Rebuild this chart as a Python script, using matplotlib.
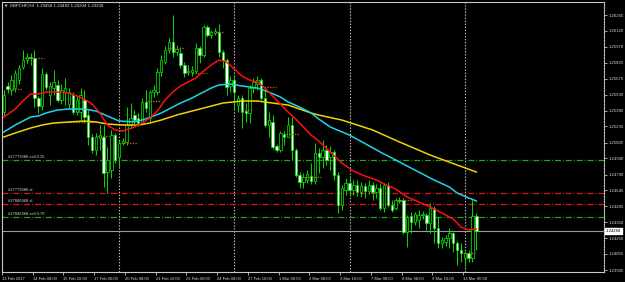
import matplotlib.pyplot as plt
import matplotlib.transforms as mtransforms

plt.rcParams['font.family'] = ['Liberation Sans', 'DejaVu Sans']
plt.rcParams['lines.scale_dashes'] = False

# GBPCHF H4 candles, 13 Feb 2017 00:00 .. 13 Mar 2017 12:00
opens = [1.25368, 1.25609, 1.25572, 1.25590, 1.25664, 1.25784, 1.25849, 1.25877, 1.25868, 1.25498,
         1.25424, 1.25720, 1.25525, 1.25590, 1.25618, 1.25479, 1.25553, 1.25442, 1.25525, 1.25368,
         1.25368, 1.25479, 1.25340, 1.25137, 1.25017, 1.25128, 1.25137, 1.24813, 1.24832, 1.25155,
         1.24956, 1.25081, 1.25091, 1.25248, 1.25340, 1.25313, 1.25276, 1.25461, 1.25313, 1.25553,
         1.25553, 1.25738, 1.25831, 1.25942, 1.26016, 1.25923, 1.25914, 1.25803, 1.25738, 1.25738,
         1.25747, 1.25960, 1.25895, 1.26154, 1.26080, 1.26099, 1.26108, 1.25923, 1.25849, 1.25609,
         1.25664, 1.25433, 1.25498, 1.25377, 1.25359, 1.25590, 1.25627, 1.25664, 1.25498, 1.25248,
         1.25276, 1.25054, 1.25017, 1.25165, 1.25137, 1.25248, 1.25017, 1.24785, 1.24721, 1.24739,
         1.24776, 1.24730, 1.24989, 1.24956, 1.25017, 1.24956, 1.24998, 1.24785, 1.24508, 1.24647,
         1.24711, 1.24647, 1.24693, 1.24628, 1.24684, 1.24637, 1.24693, 1.24628, 1.24665, 1.24480,
         1.24693, 1.24508, 1.24480, 1.24554, 1.24554, 1.24258, 1.24406, 1.24351, 1.24369, 1.24415,
         1.24415, 1.24341, 1.24480, 1.24295, 1.24156, 1.24166, 1.24203, 1.24249, 1.24156, 1.24092,
         1.24018, 1.24064, 1.24018, 1.24406]
highs = [1.25572, 1.25646, 1.25710, 1.25757, 1.25803, 1.25942, 1.25914, 1.25914, 1.25942, 1.25516,
         1.25775, 1.25738, 1.25646, 1.25757, 1.25664, 1.25627, 1.25683, 1.25590, 1.25553, 1.25525,
         1.25590, 1.25572, 1.25387, 1.25165, 1.25174, 1.25248, 1.25248, 1.25044, 1.25202, 1.25174,
         1.25109, 1.25128, 1.25414, 1.25451, 1.25387, 1.25359, 1.25498, 1.25572, 1.25572, 1.25618,
         1.25775, 1.25895, 1.25979, 1.26053, 1.26265, 1.25988, 1.25969, 1.25831, 1.25803, 1.25794,
         1.26006, 1.25979, 1.26173, 1.26173, 1.26127, 1.26145, 1.26182, 1.25942, 1.25868, 1.25701,
         1.25701, 1.25525, 1.25525, 1.25451, 1.25618, 1.25683, 1.25701, 1.25683, 1.25590, 1.25368,
         1.25340, 1.25072, 1.25192, 1.25192, 1.25322, 1.25322, 1.25035, 1.24813, 1.24804, 1.24832,
         1.24896, 1.25081, 1.25035, 1.25109, 1.25063, 1.25054, 1.25017, 1.24813, 1.24693, 1.24758,
         1.24758, 1.24739, 1.24739, 1.24721, 1.24711, 1.24739, 1.24721, 1.24702, 1.24711, 1.24711,
         1.24721, 1.24554, 1.24573, 1.24582, 1.24573, 1.24415, 1.24443, 1.24443, 1.24462, 1.24452,
         1.24434, 1.24526, 1.24499, 1.24397, 1.24212, 1.24230, 1.24295, 1.24258, 1.24175, 1.24156,
         1.24082, 1.24092, 1.24554, 1.24434]
lows = [1.25322, 1.25544, 1.25525, 1.25553, 1.25627, 1.25766, 1.25821, 1.25803, 1.25414, 1.25359,
        1.25387, 1.25572, 1.25433, 1.25525, 1.25461, 1.25442, 1.25433, 1.25405, 1.25350, 1.25340,
        1.25294, 1.25266, 1.25063, 1.24989, 1.24970, 1.25017, 1.24674, 1.24619, 1.24758, 1.24896,
        1.24859, 1.25063, 1.25063, 1.25229, 1.25257, 1.25239, 1.25248, 1.25368, 1.25276, 1.25507,
        1.25525, 1.25701, 1.25812, 1.25914, 1.25877, 1.25895, 1.25775, 1.25692, 1.25710, 1.25701,
        1.25729, 1.25821, 1.25877, 1.26062, 1.26053, 1.26080, 1.25877, 1.25775, 1.25525, 1.25553,
        1.25387, 1.25368, 1.25220, 1.25276, 1.25266, 1.25544, 1.25572, 1.25479, 1.25229, 1.25137,
        1.25026, 1.24998, 1.24998, 1.25063, 1.25137, 1.24924, 1.24767, 1.24665, 1.24665, 1.24711,
        1.24702, 1.24702, 1.24804, 1.24850, 1.24878, 1.24832, 1.24739, 1.24434, 1.24462, 1.24600,
        1.24591, 1.24600, 1.24591, 1.24582, 1.24573, 1.24610, 1.24554, 1.24573, 1.24462, 1.24443,
        1.24489, 1.24443, 1.24462, 1.24526, 1.24240, 1.24119, 1.24249, 1.24323, 1.24295, 1.24378,
        1.24277, 1.24249, 1.24156, 1.24110, 1.24110, 1.24129, 1.24110, 1.24073, 1.23953, 1.23981,
        1.23934, 1.23981, 1.23981, 1.24092]
closes = [1.25525, 1.25581, 1.25664, 1.25729, 1.25775, 1.25849, 1.25877, 1.25868, 1.25498, 1.25424,
          1.25720, 1.25599, 1.25609, 1.25646, 1.25479, 1.25572, 1.25590, 1.25553, 1.25368, 1.25479,
          1.25525, 1.25322, 1.25137, 1.25017, 1.25137, 1.25155, 1.24804, 1.24924, 1.25155, 1.24924,
          1.25081, 1.25100, 1.25248, 1.25313, 1.25294, 1.25266, 1.25461, 1.25405, 1.25553, 1.25572,
          1.25738, 1.25849, 1.25942, 1.26016, 1.25923, 1.25951, 1.25803, 1.25729, 1.25747, 1.25757,
          1.25960, 1.25895, 1.26154, 1.26080, 1.26108, 1.26117, 1.25923, 1.25849, 1.25599, 1.25664,
          1.25553, 1.25498, 1.25368, 1.25359, 1.25590, 1.25646, 1.25664, 1.25498, 1.25248, 1.25294,
          1.25044, 1.25017, 1.25174, 1.25137, 1.25248, 1.25017, 1.24785, 1.24721, 1.24767, 1.24795,
          1.24730, 1.24989, 1.24956, 1.25017, 1.24924, 1.24998, 1.24785, 1.24508, 1.24665, 1.24711,
          1.24647, 1.24693, 1.24628, 1.24684, 1.24637, 1.24693, 1.24628, 1.24665, 1.24480, 1.24693,
          1.24508, 1.24462, 1.24554, 1.24545, 1.24258, 1.24397, 1.24351, 1.24425, 1.24415, 1.24425,
          1.24341, 1.24480, 1.24295, 1.24156, 1.24184, 1.24203, 1.24249, 1.24156, 1.24092, 1.24064,
          1.24064, 1.24018, 1.24406, 1.24268]

# moving averages read at a few bars
fast_bars = [0, 3, 5, 7, 9, 11, 14, 17, 19, 21, 23, 25, 27, 29, 31, 34, 36, 38, 40, 42, 44, 46, 48, 50,
             52, 54, 56, 58, 60, 62, 64, 66, 68, 70, 72, 74, 76, 78, 80, 82, 85, 88, 91, 94, 97, 99,
             102, 105, 108, 111, 114, 117, 119, 121, 123]
fast_ma = [1.25322, 1.25396, 1.25470, 1.25535, 1.25535, 1.25553, 1.25553, 1.25544, 1.25516, 1.25488,
           1.25442, 1.25359, 1.25248, 1.25202, 1.25192, 1.25229, 1.25266, 1.25313, 1.25377, 1.25479,
           1.25553, 1.25609, 1.25646, 1.25683, 1.25747, 1.25803, 1.25849, 1.25831, 1.25766, 1.25701,
           1.25664, 1.25646, 1.25590, 1.25516, 1.25442, 1.25368, 1.25303, 1.25229, 1.25155, 1.25100,
           1.24998, 1.24896, 1.24822, 1.24776, 1.24739, 1.24702, 1.24656, 1.24582, 1.24536, 1.24489,
           1.24434, 1.24378, 1.24304, 1.24277, 1.24286]
mid_bars = [0, 3, 7, 9, 11, 14, 17, 21, 24, 27, 30, 34, 36, 39, 41, 43, 46, 49, 52, 54, 56, 59, 62, 64,
            66, 69, 72, 74, 77, 80, 82, 85, 90, 98, 106, 112, 116, 118, 121, 123]
mid_ma = [1.25183, 1.25248, 1.25322, 1.25331, 1.25359, 1.25387, 1.25396, 1.25396, 1.25377, 1.25331,
          1.25285, 1.25276, 1.25294, 1.25331, 1.25359, 1.25396, 1.25451, 1.25498, 1.25553, 1.25590,
          1.25618, 1.25627, 1.25609, 1.25599, 1.25590, 1.25553, 1.25507, 1.25461, 1.25414, 1.25359,
          1.25303, 1.25229, 1.25155, 1.24998, 1.24850, 1.24739, 1.24674, 1.24619, 1.24573, 1.24545]
slow_bars = [0, 3, 7, 10, 13, 17, 21, 24, 27, 31, 35, 38, 41, 45, 49, 53, 57, 62, 66, 70, 74, 77, 80,
             82, 88, 96, 103, 111, 118, 123]
slow_ma = [1.25137, 1.25174, 1.25220, 1.25248, 1.25266, 1.25276, 1.25285, 1.25276, 1.25257, 1.25248,
           1.25248, 1.25266, 1.25294, 1.25340, 1.25377, 1.25414, 1.25451, 1.25470, 1.25470, 1.25451,
           1.25433, 1.25396, 1.25359, 1.25340, 1.25294, 1.25202, 1.25091, 1.24970, 1.24878, 1.24813]

# short dotted levels
lvl_start = [0.6, 5.3, 13.6, 24.3, 30.5, 37.3, 42.7, 49.0, 55.2, 62.0, 67.7, 73.4, 78.6, 102.0, 119.6]
lvl_end = [4.5, 10.5, 24.0, 27.4, 34.7, 41.0, 46.9, 52.9, 57.3, 64.5, 70.8, 76.8, 82.5, 106.4, 122.7]
lvl_price = [1.25581, 1.25868, 1.25276, 1.25146, 1.25081, 1.25470, 1.25960, 1.25729, 1.26108, 1.25387,
             1.25599, 1.25165, 1.24767, 1.24554, 1.24064]

order_prices = [1.24924, 1.24619, 1.24517, 1.24397]
order_labels = ["#27773086 sell 0.15", "#27773086 sl", "#27846468 sl", "#27846468 sell 0.70"]
order_colors = ["#22a322", "#d81818", "#d81818", "#22a322"]
bid = 1.24268

sep_bars = [30, 60, 90, 120]
x_label_bars = [0, 8, 16, 24, 32, 40, 48, 56, 64, 72, 80, 88, 96, 104, 112, 120]
x_labels = ["13 Feb 2017", "14 Feb 08:00", "15 Feb 16:00", "17 Feb 00:00", "20 Feb 08:00",
            "21 Feb 16:00", "23 Feb 00:00", "24 Feb 08:00", "27 Feb 16:00", "1 Mar 00:00",
            "2 Mar 08:00", "3 Mar 16:00", "7 Mar 00:00", "8 Mar 08:00", "9 Mar 16:00", "13 Mar 00:00"]
y_ticks = [1.26265, 1.26120, 1.25970, 1.25825, 1.25675, 1.25530, 1.25380, 1.25235, 1.25085,
           1.24940, 1.24790, 1.24645, 1.24495, 1.24350, 1.24200, 1.24055, 1.23905]
header = "\u25bc GBPCHF,H4  1.23458 1.23492 1.23204 1.23230"

fig = plt.figure(figsize=(6.25, 2.82), dpi=100, facecolor='black')
ax = fig.add_axes([2 / 625, 10 / 282, 601.5 / 625, 270 / 282], facecolor='black')
ax.set_xlim(-0.13, 156.1)
ax.set_ylim(1.23888, 1.26386)

green = '#00e000'
frame = '#c8c8c8'

# weekly separators
for b in sep_bars:
    ax.axvline(b, color='#bdbdbd', lw=0.8, dashes=(1, 1.2), zorder=1)

# order lines
for p, lab, c in zip(order_prices, order_labels, order_colors):
    ax.axhline(p, color=c, lw=0.9, dashes=(4.3, 1.4, 0.7, 1.4), zorder=1)
    ax.text(1.0, p + 0.00007, lab, color='#d8d8d8', fontsize=3.0, va='bottom', ha='left', zorder=5)

ax.axhline(bid, color='#9c9c9c', lw=0.8, zorder=1)

# candles
for i in range(len(opens)):
    o, h, l, c = opens[i], highs[i], lows[i], closes[i]
    ax.vlines(i, l, h, color=green, lw=0.7, zorder=2)
    body = max(abs(c - o), 0.00002)
    face = 'black' if c >= o else 'white'
    ax.bar(i, body, bottom=min(o, c), width=0.62, facecolor=face, edgecolor=green, lw=0.55, zorder=3)

ax.hlines(lvl_price, lvl_start, lvl_end, colors='#b06a1c', lw=0.9, linestyles=(0, (1, 1)), zorder=3)

ax.plot(slow_bars, slow_ma, color='#f2d200', lw=1.1, zorder=4)
ax.plot(mid_bars, mid_ma, color='#1ed6e6', lw=1.1, zorder=4)
ax.plot(fast_bars, fast_ma, color='#ff1010', lw=1.1, zorder=4)

# axes styling
for s in ['left', 'top', 'bottom']:
    ax.spines[s].set_color(frame)
    ax.spines[s].set_linewidth(0.8)
ax.spines['right'].set_color(frame)
ax.spines['right'].set_linewidth(0.8)
ax.spines['right'].set_linestyle((0, (1, 1)))

ax.yaxis.tick_right()
ax.set_yticks(y_ticks)
ax.set_yticklabels([f"{v:.5f}" for v in y_ticks])
ax.tick_params(axis='y', colors=frame, labelcolor='#d8d8d8', labelsize=3.1, length=2, width=0.6, pad=1.5)

ax.set_xticks([b - 0.45 for b in x_label_bars])
ax.set_xticklabels(x_labels)
ax.tick_params(axis='x', colors=frame, labelcolor='#d8d8d8', labelsize=3.0, length=2.5, width=0.6, pad=0.8)
for t in ax.get_xticklabels():
    t.set_horizontalalignment('left')

# current price box
trans = mtransforms.blended_transform_factory(ax.transAxes, ax.transData)
ax.text(1.004, bid, f"{bid:.5f}", transform=trans, fontsize=3.1, color='black', va='center', ha='left',
        bbox=dict(boxstyle='square,pad=0.25', facecolor='white', edgecolor='white'), zorder=6, clip_on=False)

fig.text(4 / 625, 1 - 6 / 282, header, color='#e8e8e8', fontsize=3.2, va='center', ha='left')

fig.savefig('out.png', dpi=100, facecolor='black')
